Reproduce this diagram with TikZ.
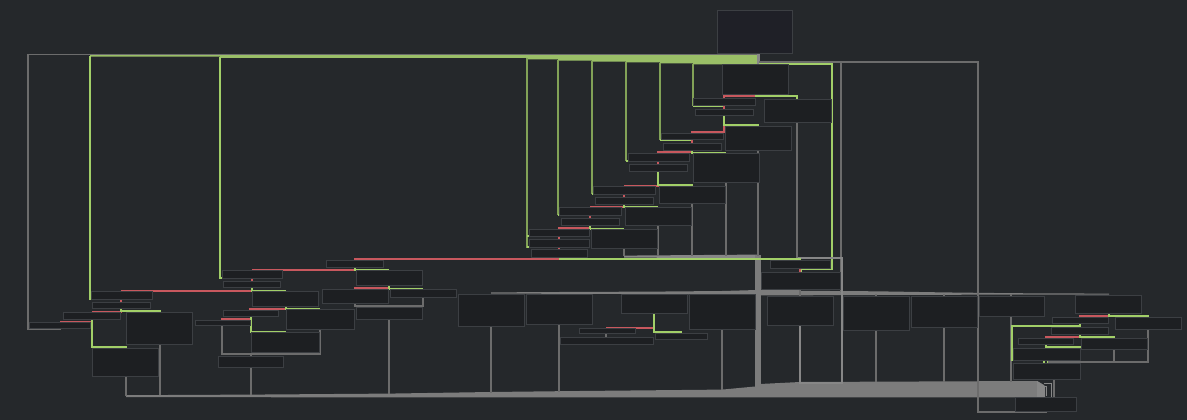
\documentclass[tikz,border=0pt]{standalone}
\definecolor{bg}{HTML}{25282B}
\definecolor{boxfill}{HTML}{1D1F22}
\definecolor{boxline}{HTML}{3C3F43}
\definecolor{topfill}{HTML}{1F2027}
\definecolor{edgegreen}{HTML}{A2CF68}
\definecolor{bandgreen}{HTML}{9ABF67}
\definecolor{olive}{HTML}{82A257}
\definecolor{edgered}{HTML}{C8585E}
\definecolor{edgegray}{HTML}{6C6C6C}
\definecolor{bandgray}{HTML}{7C7C7C}
\definecolor{lightgray}{HTML}{878787}
\begin{document}
\begin{tikzpicture}[x=1pt,y=-1pt,
  box/.style={draw=boxline, fill=boxfill, line width=0.8pt, inner sep=0pt, outer sep=0pt, anchor=north west},
  ge/.style={draw=edgegreen, line width=1.2pt},
  gev/.style={draw=olive, line width=1.5pt},
  rd/.style={draw=edgered, line width=1.2pt},
  gy/.style={draw=edgegray, line width=1.2pt},
  gyl/.style={draw=lightgray, line width=1.2pt},
  band/.style={fill=bandgray}]
\newcommand\blk[5]{\node[box, minimum width={(#4-#2)*1pt}, minimum height={(#5-#3)*1pt}] (#1) at (#2,#3) {};}

\fill[bg] (0,0) rectangle (1187,420);
\useasboundingbox (0,0) rectangle (1187,420);

% ---------- wide bundles ----------
% entry bundle along the top
\draw[gy] (60,328) -- (60,329) -- (28,329) -- (28,54.5) -- (759,54.5);
\fill[bandgreen] (90,55.2) -- (757,55.2) -- (757,64.3) -- (693,64.3) -- (693,63.3) -- (660,63.3)
  -- (660,62.4) -- (626,62.4) -- (626,61.6) -- (592,61.6) -- (592,60.6) -- (558,60.6)
  -- (558,59.3) -- (527,59.3) -- (527,57.8) -- (220,57.8) -- (220,56.6) -- (90,56.6) -- cycle;
\fill[lightgray] (756.5,53) rectangle (760,66);

% loop exits bundle
\fill[lightgray] (624,255.6) -- (757,254.6) -- (757,258.2) -- (624,257.6) -- cycle;
\fill[bandgray] (755,254.6) rectangle (760.5,388);
% dispatch bundle
\fill[bandgray] (491,292.4) -- (559,292) -- (654,291.6) -- (722,291) -- (757,290) -- (800,290)
  -- (800,290.8) -- (876,291.3) -- (944,292.4) -- (1011,293.2) -- (1109,293.6)
  -- (1109,294.6) -- (1011,294.6) -- (944,294.8) -- (876,295) -- (800,295.3) -- (757,295.3)
  -- (722,294.6) -- (654,294) -- (559,293.8) -- (491,293.6) -- cycle;
% exit bundle at the bottom
\fill[bandgray] (126,395.2) -- (251,394.6) -- (389,393.6) -- (491,392) -- (559,391.2)
  -- (722,389.6) -- (755,386.5) -- (760,384) -- (800,382) -- (1037,381)
  -- (1044,385) -- (1044,397.5) -- (126,397.2) -- cycle;
\fill[lightgray] (1037,381) -- (1045,386) -- (1045,397.5) -- (1037,397.5) -- cycle;
\draw[gyl, line width=0.8pt] (1040,386) -- (1046,386) -- (1046,396);
\draw[gyl, line width=0.8pt] (1044,383) -- (1051,383) -- (1051,397);
\draw[gy] (1054,379) -- (1054,397);

% ---------- right-hand gray routes ----------
\draw[gy] (759,62) -- (841,62) -- (841,292);
\draw[gy] (841,62) -- (978,62) -- (978,412) -- (1046,412) -- (1046,411);
\draw[ge] (759,64) -- (832,64) -- (832,269) -- (801,269) -- (801,272);
\draw[gyl] (800,325) -- (800,383) -- (842,383) -- (842,258) -- (797,258);
\draw[gy] (797,122) -- (797,260);
\draw[gy] (800,289) -- (800,296);
\draw[gy] (876,330) -- (876,382);
\draw[gy] (944,327) -- (944,382);
\draw[gy] (1011,316) -- (1011,382);
\draw[gy] (876,294) -- (876,296);
\draw[gy] (944,294) -- (944,296);
\draw[gy] (1011,294) -- (1011,296);
\draw[gy] (758,150) -- (758,256);
\draw[gy] (726,182) -- (726,256);
\draw[gy] (692,203) -- (692,256);
\draw[gy] (658,225) -- (658,256);
\draw[gy] (624,248) -- (624,256);

% ---------- green fan from the entry bundle ----------
\draw[ge] (90,56) -- (90,299) -- (121,299) -- (121,302);
\draw[ge] (220,57) -- (220,278) -- (252,278) -- (252,281);
\draw[gev] (527,58) -- (527,247) -- (559,247);
\draw[ge] (527,236) -- (559,236) -- (559,239);
\draw[ge] (527,247) -- (559,247) -- (559,249);
\draw[gev] (558,60) -- (558,215);
\draw[ge] (558,215) -- (590,215) -- (590,218);
\draw[gev] (592,61) -- (592,194);
\draw[ge] (592,194) -- (624,194) -- (624,197);
\draw[gev] (626,62) -- (626,161);
\draw[ge] (626,161) -- (658,161) -- (658,164);
\draw[gev] (660,63) -- (660,140);
\draw[ge] (660,140) -- (692,140) -- (692,143);
\draw[gev] (693,64) -- (693,106);
\draw[ge] (693,106) -- (724,106) -- (724,109);

% ---------- branch chain, upper right ----------
\draw[rd] (755,94) -- (755,96) -- (724,96) -- (724,98);
\draw[ge] (755,96) -- (797,96) -- (797,99);
\draw[rd] (724,105) -- (724,109);
\draw[rd] (724,115) -- (724,132) -- (692,132) -- (692,133);
\draw[ge] (724,115) -- (724,125) -- (758,125) -- (758,126);
\draw[rd] (692,139) -- (692,143);
\draw[rd] (692,150) -- (692,152) -- (658,152) -- (658,153);
\draw[ge] (692,150.5) -- (692,153) -- (726,153);
\draw[rd] (658,161) -- (658,164);
\draw[rd] (658,171) -- (658,186) -- (624,186);
\draw[ge] (658,171) -- (658,185) -- (692,185) -- (692,186);
\draw[rd] (624,194) -- (624,197);
\draw[rd] (624,204) -- (624,207) -- (590,207);
\draw[ge] (624,204) -- (624,207) -- (658,207);
\draw[rd] (590,215) -- (590,218);
\draw[rd] (590,225) -- (590,228) -- (559,228) -- (559,229);
\draw[ge] (590,225) -- (590,229) -- (624,229);
\draw[rd] (559,236) -- (559,239);
\draw[rd] (559,247) -- (559,249);
\draw[rd] (559,257) -- (559,259) -- (355,259) -- (355,260);
\draw[ge] (559,259) -- (800,259) -- (800,260);
\draw[rd] (800,268) -- (800,272);

% ---------- branch chain, left ----------
\draw[rd] (355,267) -- (355,270) -- (252,270);
\draw[ge] (355,267) -- (355,270) -- (389,270);
\draw[rd] (252,278) -- (252,281);
\draw[rd] (252,287) -- (252,291) -- (121,291);
\draw[ge] (252,287) -- (252,291) -- (286,291);
\draw[rd] (121,299) -- (121,302);
\draw[rd] (121,308) -- (121,312) -- (92,312);
\draw[ge] (121,308) -- (121,311) -- (160,311) -- (160,312);
\draw[rd] (92,319) -- (92,322) -- (60,322);
\draw[ge] (92,319) -- (92,347) -- (126,347) -- (126,348);
\draw[rd] (286,306) -- (286,309) -- (250,309) -- (250,310);
\draw[ge] (286,306) -- (286,309) -- (320,309);
\draw[rd] (251,316) -- (251,319) -- (222,319) -- (222,320);
\draw[ge] (251,316) -- (251,332) -- (286,332);
\draw[gy] (222,325) -- (222,354) -- (320,354) -- (320,329);
\draw[gy] (251,354) -- (251,356);
\draw[gy] (285,352) -- (285,354);
\draw[rd] (389,285) -- (389,288) -- (355,288) -- (355,289);
\draw[ge] (389,285) -- (389,289) -- (423,289);
\draw[gy] (355,303) -- (355,306) -- (423,306) -- (423,297);
\draw[gy] (389,306) -- (389,307);
\draw[gy] (389,319) -- (389,394);
\draw[gy] (160,344) -- (160,395);
\draw[gy] (126,376) -- (126,396);
\draw[gy] (251,367) -- (251,395);

% ---------- middle row ----------
\draw[gy] (491,326) -- (491,393);
\draw[gy] (559,324) -- (559,392);
\draw[gy] (722,329) -- (722,390);
\draw[rd] (654,313) -- (654,328) -- (606,328);
\draw[ge] (654,313) -- (654,332) -- (681,332) -- (681,333);
\draw[gy] (606,333) -- (606,337);

% ---------- right cluster ----------
\draw[rd] (1109,313) -- (1109,316) -- (1080,316) -- (1080,317);
\draw[ge] (1109,313) -- (1109,316) -- (1148,316) -- (1148,317);
\draw[rd] (1080,323) -- (1080,327);
\draw[ge] (1080,323) -- (1080,326) -- (1012,326) -- (1012,360) -- (1044,360) -- (1044,363);
\draw[rd] (1080,334) -- (1080,337) -- (1046,337) -- (1046,338);
\draw[ge] (1080,334) -- (1080,337) -- (1114,337) -- (1114,338);
\draw[rd] (1046,344) -- (1046,348);
\draw[ge] (1046,345) -- (1046,347) -- (1080,347) -- (1080,360) -- (1048,360) -- (1048,363);
\draw[gy] (1148,329) -- (1148,362) -- (1049,362) -- (1049,363);
\draw[gy] (1114,349) -- (1114,362);

% ---------- blocks ----------
\node[box, fill=topfill, minimum width=75pt, minimum height=43pt] (B0) at (717,10) {};
\blk{B1}{722}{64}{788}{94}
\blk{B2}{693}{98}{755}{105}
\blk{B3}{695}{109}{753}{115}
\blk{B4}{764}{99}{831}{122}
\blk{B5}{725}{126}{791}{150}
\blk{B6}{661}{133}{723}{139}
\blk{B7}{663}{143}{721}{150}
\blk{B8}{628}{153}{689}{161}
\blk{B9}{629}{164}{687}{171}
\blk{B10}{693}{153}{759}{182}
\blk{B11}{593}{186}{655}{194}
\blk{B12}{595}{197}{653}{204}
\blk{B13}{659}{186}{725}{203}
\blk{B14}{559}{207}{621}{215}
\blk{B15}{561}{218}{619}{225}
\blk{B16}{625}{207}{691}{225}
\blk{B17}{529}{229}{589}{236}
\blk{B18}{529}{239}{589}{247}
\blk{B19}{531}{249}{587}{257}
\blk{B20}{591}{229}{657}{248}
\blk{L1}{91}{291}{152}{299}
\blk{L2}{92}{302}{150}{308}
\blk{L3}{63}{312}{120}{319}
\blk{L4}{29}{322}{90}{328}
\blk{L5}{126}{312}{192}{344}
\blk{L6}{92}{348}{158}{376}
\blk{L7}{223}{310}{278}{316}
\blk{L8}{195}{320}{250}{325}
\blk{L9}{218}{356}{283}{367}
\blk{L10}{222}{270}{282}{278}
\blk{L11}{223}{281}{280}{287}
\blk{L12}{252}{291}{318}{306}
\blk{L14}{286}{309}{354}{329}
\blk{L15}{251}{332}{319}{352}
\blk{L18}{356}{270}{422}{285}
\blk{L19}{322}{289}{388}{303}
\blk{L20}{390}{289}{456}{297}
\blk{L21}{356}{307}{422}{319}
\blk{L22}{326}{260}{383}{267}
\blk{M1}{458}{294}{524}{326}
\blk{M2}{526}{294}{592}{324}
\blk{M3}{621}{294}{687}{313}
\blk{M4}{689}{294}{755}{329}
\blk{M5}{579}{328}{635}{333}
\blk{M6}{560}{337}{653}{344}
\blk{M7}{655}{333}{707}{339}
\blk{R1}{761}{272}{840}{289}
\blk{R2}{770}{260}{830}{268}
\blk{R3}{767}{296}{833}{325}
\blk{R4}{843}{296}{909}{330}
\blk{R5}{911}{296}{977}{327}
\blk{R6}{979}{296}{1044}{316}
\blk{R7}{1075}{295}{1141}{313}
\blk{R8}{1052}{317}{1108}{323}
\blk{R9}{1115}{317}{1181}{329}
\blk{R10}{1051}{327}{1108}{334}
\blk{R11}{1018}{338}{1073}{344}
\blk{R12}{1081}{338}{1147}{349}
\blk{R13}{1013}{348}{1080}{360}
\blk{R14}{1013}{363}{1080}{379}
\blk{R15}{1015}{397}{1076}{411}
\end{tikzpicture}
\end{document}
